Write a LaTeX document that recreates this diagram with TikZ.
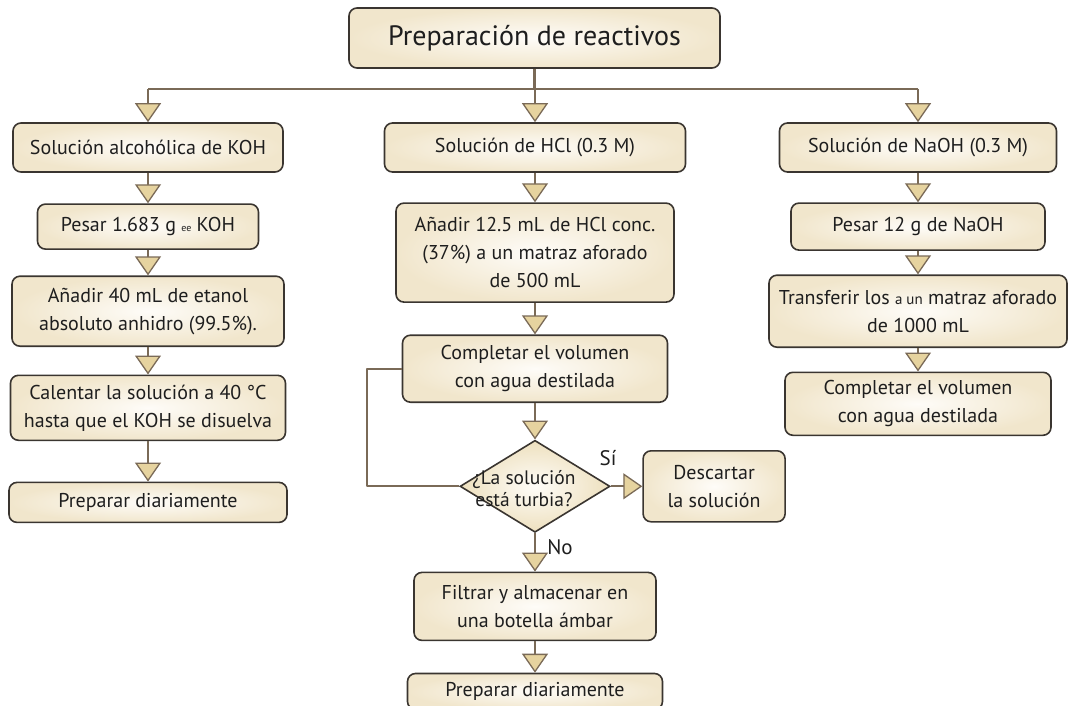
\documentclass[tikz,border=0pt]{standalone}
\usepackage{fontspec}
\setmainfont{PT Sans}
\usetikzlibrary{shapes.geometric,arrows.meta,positioning,calc}

\definecolor{borde}{HTML}{3A3530}
\definecolor{cafe}{HTML}{7A6A57}
\definecolor{crema}{HTML}{F1E6CC}
\definecolor{claro}{HTML}{FEFCF8}
\definecolor{punta}{HTML}{E6D39F}
\definecolor{texto}{HTML}{1E1E1E}

\tikzset{
  caja/.style={draw=borde, line width=1.6pt, rounded corners=8pt,
    inner color=claro, outer color=crema, align=center, text=texto,
    font=\fontsize{20}{28}\selectfont},
  decision/.style={diamond, draw=borde, line width=1.6pt, inner sep=0pt,
    inner color=claro, outer color=crema!70!punta,
    minimum width=150pt, minimum height=92pt},
  tramo/.style={draw=cafe, line width=2.2pt, line join=round},
  flecha/.style={tramo, -{Triangle[width=26pt,length=19pt,fill=punta,line width=1.3pt]}},
  etiqueta/.style={text=texto, font=\fontsize{21}{24}\selectfont},
}

\begin{document}
\begin{tikzpicture}[x=1pt,y=-1pt]
  \useasboundingbox (0,0) rectangle (1068,706);

  \node[caja, minimum width=371pt, minimum height=60pt,
        font=\fontsize{28}{34}\selectfont] (titulo) at (534.5,38) {Preparación de reactivos};

  % KOH
  \node[caja, minimum width=270pt, minimum height=49pt] (koh) at (148,147.5) {Solución alcohólica de KOH};
  \node[caja, minimum width=221pt, minimum height=45pt, below=30.5pt of koh] (pesarkoh)
       {Pesar 1.683 g {\fontsize{10}{10}\selectfont ee} KOH};
  \node[caja, minimum width=272pt, minimum height=70pt, below=25.5pt of pesarkoh] (etanol)
       {Añadir 40 mL de etanol\\absoluto anhidro (99.5\%).};
  \node[caja, minimum width=275pt, minimum height=65pt, below=27.5pt of etanol] (calentar)
       {Calentar la solución a 40 °C\\hasta que el KOH se disuelva};
  \node[caja, minimum width=278pt, minimum height=40pt, below=40.5pt of calentar] (diarioL) {Preparar diariamente};

  % HCl
  \node[caja, minimum width=301pt, minimum height=49pt] (hcl) at (535,147.5) {Solución de HCl (0.3 M)};
  \node[caja, minimum width=278pt, minimum height=99pt, below=29.5pt of hcl] (anadir)
       {Añadir 12.5 mL de HCl conc.\\(37\%) a un matraz aforado\\de 500 mL};
  \node[caja, minimum width=265pt, minimum height=67pt, below=31.5pt of anadir] (completar)
       {Completar el volumen\\con agua destilada};
  \node[decision, below=36.5pt of completar] (turbia) {};
  \node[text=texto, align=center, font=\fontsize{19.5}{22}\selectfont,
        xshift=-11pt, yshift=-2pt] (pregunta) at (turbia)
       {¿La solución\\está turbia?};
  \node[caja, minimum width=142pt, minimum height=71pt, right=31.5pt of turbia] (descartar)
       {Descartar\\la solución};
  \node[caja, minimum width=242pt, minimum height=68pt, below=38.5pt of turbia] (filtrar)
       {Filtrar y almacenar en\\una botella ámbar};
  \node[caja, minimum width=255pt, minimum height=36pt, below=31.5pt of filtrar] (diarioM) {Preparar diariamente};
  \node[etiqueta] (si) at (608,458) {Sí};
  \node[etiqueta] (no) at (560,547) {No};

  % NaOH
  \node[caja, minimum width=277pt, minimum height=49pt] (naoh) at (918,147.5) {Solución de NaOH (0.3 M)};
  \node[caja, minimum width=254pt, minimum height=47pt, below=29.5pt of naoh] (pesarnaoh) {Pesar 12 g de NaOH};
  \node[caja, minimum width=298pt, minimum height=72pt, below=23.5pt of pesarnaoh] (transferir)
       {Transferir los {\fontsize{15}{15}\selectfont a un} matraz aforado\\de 1000 mL};
  \node[caja, minimum width=266pt, minimum height=63pt, below=23.5pt of transferir] (completarR)
       {Completar el volumen\\con agua destilada};

  % reparto desde el titulo
  \coordinate (bus) at (0,89);
  \draw[tramo] (titulo.south) -- (titulo.south |- bus);
  \draw[tramo] (koh.north |- bus) -- (naoh.north |- bus);
  \foreach \c in {koh,hcl,naoh}
    \draw[flecha] (\c.north |- bus) -- (\c.north);

  \foreach \a/\b in {koh/pesarkoh, pesarkoh/etanol, etanol/calentar, calentar/diarioL,
                     hcl/anadir, anadir/completar, completar/turbia, turbia/filtrar, filtrar/diarioM,
                     naoh/pesarnaoh, pesarnaoh/transferir, transferir/completarR}
    \draw[flecha] (\a.south) -- (\b.north);

  \draw[flecha] (turbia.east) -- (descartar.west);

  % regreso a completar
  \coordinate (lazo) at (367,0);
  \draw[tramo] (turbia.west) -- (turbia.west -| lazo) |- (completar.west);
\end{tikzpicture}
\end{document}
